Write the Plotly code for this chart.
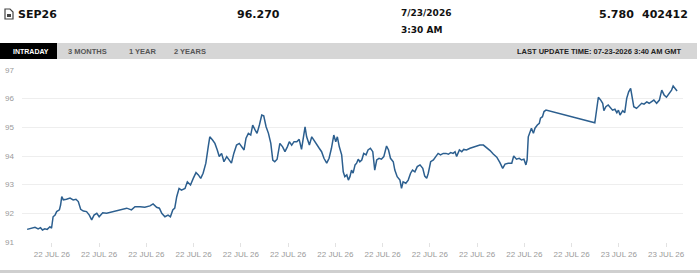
import plotly.graph_objects as go

# ---- data (minutes after 22 JUL 26 00:00, price) ----
minutes = [-63, -52, -43, -35, -29, -24, -18, -12, -5, -1, 3, 8, 12, 19, 22, 25, 29, 37, 46, 54,
           61, 67, 73, 80, 88, 95, 101, 107, 114, 120, 129, 139, 152, 164, 177, 190, 202, 211, 224, 236,
           249, 257, 266, 273, 279, 287, 295, 301, 307, 312, 317, 323, 329, 338, 344, 352, 359, 366, 372, 378,
           384, 391, 397, 401, 408, 414, 420, 425, 431, 437, 444, 450, 456, 462, 469, 476, 482, 488, 493, 499,
           505, 510, 516, 521, 527, 533, 538, 544, 550, 556, 561, 566, 572, 579, 586, 592, 598, 603, 609, 615,
           622, 628, 634, 638, 643, 647, 654, 660, 665, 672, 679, 685, 691, 698, 704, 710, 716, 721, 725, 730,
           736, 740, 744, 749, 753, 757, 761, 765, 770, 774, 778, 782, 787, 792, 798, 803, 809, 815, 820, 825,
           831, 837, 843, 850, 855, 860, 867, 871, 877, 884, 888, 892, 899, 905, 911, 916, 922, 928, 935, 942,
           947, 952, 956, 962, 969, 975, 981, 987, 994, 1001, 1007, 1013, 1019, 1024, 1028, 1035, 1041, 1046, 1053, 1062,
           1070, 1079, 1087, 1096, 1104, 1113, 1121, 1130, 1138, 1145, 1151, 1159, 1168, 1173, 1180, 1187, 1193, 1199, 1204, 1207,
           1210, 1214, 1218, 1223, 1227, 1233, 1238, 1241, 1246, 1250, 1255, 1379, 1383, 1388, 1394, 1399, 1402, 1407, 1413, 1419,
           1424, 1430, 1435, 1439, 1443, 1450, 1455, 1460, 1465, 1470, 1473, 1478, 1485, 1492, 1498, 1504, 1511, 1517, 1523, 1529,
           1536, 1543, 1549, 1555, 1561, 1568, 1574, 1578, 1582, 1588]
prices = [91.44, 91.48, 91.51, 91.46, 91.50, 91.42, 91.46, 91.44, 91.53, 91.48, 91.88, 91.94, 92.06, 92.12, 92.29, 92.58, 92.47, 92.49, 92.53, 92.47,
          92.49, 92.41, 92.14, 92.08, 92.06, 91.94, 91.77, 91.94, 92.00, 91.88, 92.02, 92.00, 92.04, 92.08, 92.12, 92.18, 92.12, 92.23, 92.23, 92.21,
          92.26, 92.33, 92.21, 92.18, 92.00, 91.88, 91.94, 91.88, 92.12, 92.18, 92.58, 92.87, 92.81, 92.87, 93.10, 92.99, 93.22, 93.42, 93.34, 93.22,
          93.40, 93.75, 94.32, 94.67, 94.56, 94.44, 94.21, 93.98, 94.09, 93.80, 93.98, 93.86, 93.75, 94.09, 94.38, 94.44, 94.32, 94.21, 94.62, 94.79,
          94.73, 95.08, 94.91, 94.79, 95.08, 95.43, 95.40, 95.02, 94.79, 94.44, 93.86, 93.80, 93.89, 94.44, 94.32, 94.15, 94.32, 94.50, 94.38, 94.50,
          94.50, 94.58, 94.23, 94.67, 95.02, 94.67, 94.38, 94.67, 94.56, 94.38, 94.27, 94.15, 93.92, 93.75, 93.92, 94.27, 94.73, 94.50, 94.67, 94.32,
          94.04, 93.45, 93.28, 93.34, 93.16, 93.28, 93.51, 93.40, 93.69, 93.75, 93.89, 93.80, 93.86, 94.09, 94.04, 94.21, 94.27, 94.15, 93.51, 93.86,
          93.92, 93.89, 93.98, 94.35, 94.21, 93.92, 93.80, 93.51, 93.28, 93.16, 92.87, 93.10, 93.05, 93.16, 93.40, 93.51, 93.45, 93.63, 93.69, 93.57,
          93.30, 93.22, 93.40, 93.80, 93.86, 93.98, 94.09, 94.04, 94.09, 94.09, 94.06, 94.12, 94.09, 94.15, 93.98, 94.21, 94.15, 94.23, 94.21, 94.27,
          94.30, 94.35, 94.38, 94.38, 94.30, 94.19, 94.07, 93.96, 93.77, 93.57, 93.72, 93.75, 93.75, 94.00, 93.89, 93.92, 93.86, 93.89, 93.69, 93.86,
          94.67, 94.79, 94.97, 94.79, 94.97, 95.08, 95.14, 95.32, 95.37, 95.55, 95.60, 95.16, 95.49, 96.05, 95.95, 95.84, 95.58, 95.72, 95.78, 95.70,
          95.60, 95.63, 95.51, 95.60, 95.43, 95.58, 95.51, 96.01, 96.24, 96.36, 96.07, 95.72, 95.66, 95.74, 95.84, 95.81, 95.89, 95.84, 95.89, 95.95,
          95.84, 95.95, 96.30, 96.13, 96.05, 96.19, 96.30, 96.44, 96.36, 96.27]

tick_minutes = [0, 120, 240, 360, 480, 600, 720, 840, 960, 1080, 1200, 1320, 1440, 1560]
tick_labels = ["22 JUL 26"] * 12 + ["23 JUL 26"] * 2
y_ticks = [91, 92, 93, 94, 95, 96, 97]

contract = "SEP26"
last_price = "96.270"
quote_date = "7/23/2026"
quote_time = "3:30 AM"
change = "5.780"
volume = "402412"
tabs = ["INTRADAY", "3 MONTHS", "1 YEAR", "2 YEARS"]
update_text = "LAST UPDATE TIME: 07-23-2026 3:40 AM GMT"

# ---- layout geometry (pixels) ----
W, H = 700, 274
L, R, T, B = 22, 17, 70, 32
PW, PH = W - L - R, H - T - B


def px(x):
    return (x - L) / PW


def py(y):
    return (H - B - y) / PH


fig = go.Figure()
fig.add_trace(go.Scatter(x=minutes, y=prices, mode="lines",
                         line=dict(color="#2c5f8f", width=1.5), hoverinfo="skip"))

shapes = []
# tab bar
shapes.append(dict(type="rect", xref="paper", yref="paper", x0=px(0), x1=px(697), y0=py(59), y1=py(43),
                   fillcolor="#d6d6d6", line=dict(width=0), layer="below"))
shapes.append(dict(type="rect", xref="paper", yref="paper", x0=px(0), x1=px(57), y0=py(59), y1=py(43),
                   fillcolor="#000000", line=dict(width=0)))
# bottom rule
shapes.append(dict(type="rect", xref="paper", yref="paper", x0=px(0), x1=px(700), y0=py(273), y1=py(270),
                   fillcolor="#cfcfcf", line=dict(width=0)))
# document icon
shapes.append(dict(type="path", xref="paper", yref="paper",
                   path=f"M {px(5)},{py(9)} L {px(10)},{py(9)} L {px(13)},{py(12)} L {px(13)},{py(19)} L {px(5)},{py(19)} Z",
                   line=dict(color="#444", width=1.2), fillcolor="rgba(0,0,0,0)"))
shapes.append(dict(type="rect", xref="paper", yref="paper", x0=px(7), x1=px(11), y0=py(17), y1=py(14),
                   fillcolor="#444", line=dict(width=0)))

ann = []


def add_text(text, x, y, size, color="#111", family="DejaVu Sans", anchor="left", bold=True):
    ann.append(dict(text=f"<b>{text}</b>" if bold else text, x=px(x), y=py(y), xref="paper", yref="paper",
                    xanchor=anchor, yanchor="middle", showarrow=False,
                    font=dict(size=size, color=color, family=family)))


add_text(contract, 16, 14, 11)
add_text(last_price, 235, 14, 11)
add_text(quote_date, 399, 12.5, 9)
add_text(quote_time, 399, 30, 9)
add_text(change, 636, 14, 11, anchor="right")
add_text(volume, 690, 14, 11, anchor="right")

tabfont = "Liberation Sans"
add_text(tabs[0], 11, 51, 7, color="#ffffff", family=tabfont)
add_text(tabs[1], 66, 51, 7.5, color="#555555", family=tabfont)
add_text(tabs[2], 127, 51, 7.5, color="#555555", family=tabfont)
add_text(tabs[3], 172, 51, 7.5, color="#555555", family=tabfont)
add_text(update_text, 684, 51, 7.5, color="#222222", family=tabfont, anchor="right")

x0 = -76
x1 = 1603
fig.update_layout(
    width=W, height=H, margin=dict(l=L, r=R, t=T, b=B, autoexpand=False),
    paper_bgcolor="white", plot_bgcolor="white", showlegend=False,
    shapes=shapes, annotations=ann,
    xaxis=dict(range=[x0, x1], tickvals=tick_minutes, ticktext=tick_labels, showgrid=False,
               zeroline=False, ticks="outside", ticklen=4, tickcolor="#e2e2e2", automargin=False,
               tickfont=dict(size=8, color="#9a9a9a", family="Liberation Sans"), showline=False),
    yaxis=dict(range=[91, 97], tickvals=y_ticks, showgrid=True, gridcolor="#eeeeee", gridwidth=1,
               zeroline=False, ticks="", ticklabelstandoff=7, automargin=False,
               tickfont=dict(size=8, color="#9a9a9a", family="Liberation Sans")),
)

fig.write_html("out.html")
